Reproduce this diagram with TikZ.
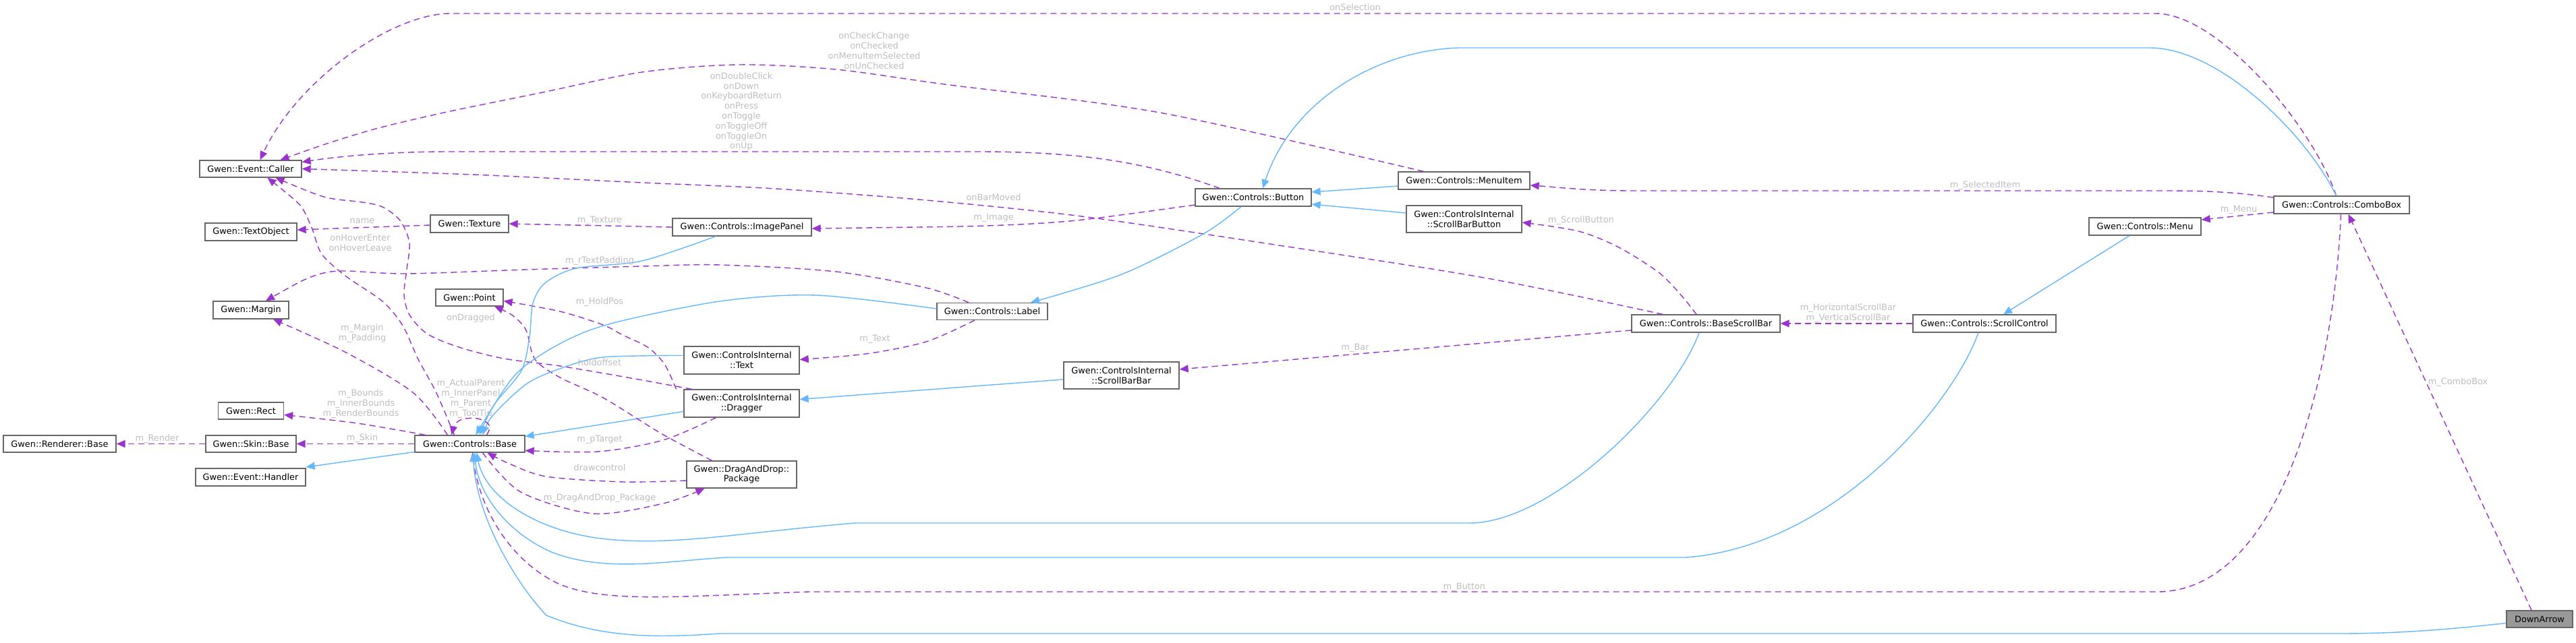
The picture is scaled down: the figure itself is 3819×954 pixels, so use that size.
\documentclass[tikz,border=0pt]{standalone}
\usepackage{fontspec}
\setmainfont{DejaVu Sans}
\usetikzlibrary{arrows.meta}
\definecolor{usagec}{HTML}{9A32CD}
\definecolor{inhc}{HTML}{63B8FF}
\definecolor{boxc}{HTML}{666666}
\definecolor{lblc}{HTML}{BEBEBE}
\definecolor{darrc}{HTML}{999999}
\newcommand{\dgfont}{\fontsize{12.9bp}{14.8bp}\selectfont}
\begin{document}
\begin{tikzpicture}[x=1bp,y=-1bp,
  box/.style={draw=boxc, line width=1.3bp, fill=white, inner sep=0pt, align=center, font=\dgfont},
  bx/.style n args={2}{box, minimum width=#1bp, minimum height=#2bp},
  lbl/.style={text=lblc, inner sep=0pt, align=center, font=\dgfont},
  usage/.style={draw=usagec, line width=1.4bp, dash pattern=on 9bp off 6bp, line join=round, -{Triangle[length=13bp,width=11bp]}},
  inh/.style={draw=inhc, line width=1.4bp, line join=round, -{Triangle[length=13bp,width=11bp]}},
]
\fill[white] (0,0) rectangle (3819,954);
\useasboundingbox (0,0) rectangle (3819,954);

% nodes
\node[bx={151}{25}] (caller) at (371.5,250.5) {Gwen::Event::Caller};
\node[bx={136}{26}] (textobj) at (372,344) {Gwen::TextObject};
\node[bx={116}{26}] (texture) at (696,332) {Gwen::Texture};
\node[bx={112}{26}] (margin) at (372,460) {Gwen::Margin};
\node[bx={100}{25}] (point) at (696,441.5) {Gwen::Point};
\node[bx={97}{25}] (rect) at (372,609.5) {Gwen::Rect};
\node[bx={167}{25}] (renderer) at (88.5,658.5) {Gwen::Renderer::Base};
\node[bx={134}{25}] (skin) at (372,658.5) {Gwen::Skin::Base};
\node[bx={163}{26}] (handler) at (371.5,708) {Gwen::Event::Handler};
\node[bx={163}{25}] (base) at (696.5,658.5) {Gwen::Controls::Base};
\node[bx={206}{26}] (imagepanel) at (1100,337) {Gwen::Controls::ImagePanel};
\node[bx={171}{41}] (citext) at (1099.5,534.5) {Gwen::ControlsInternal\\::Text};
\node[bx={171}{41}] (dragger) at (1099.5,598.5) {Gwen::ControlsInternal\\::Dragger};
\node[bx={163}{40}] (package) at (1099.5,704) {Gwen::DragAndDrop::\\Package};
\node[bx={172}{26}] (button) at (1858,293) {Gwen::Controls::Button};
\node[bx={195}{26}] (menuitem) at (2170.5,268) {Gwen::Controls::MenuItem};
\node[bx={171}{40}] (sbbutton) at (2170.5,325) {Gwen::ControlsInternal\\::ScrollBarButton};
\node[bx={164}{25}] (label) at (1471,462) {Gwen::Controls::Label};
\node[bx={171}{40}] (sbbar) at (1662.5,557) {Gwen::ControlsInternal\\::ScrollBarBar};
\node[bx={220}{26}] (bsb) at (2529,480) {Gwen::Controls::BaseScrollBar};
\node[bx={212}{26}] (scrollctl) at (2942,480) {Gwen::Controls::ScrollControl};
\node[bx={166}{26}] (menu) at (3180,336) {Gwen::Controls::Menu};
\node[bx={201}{26}] (combobox) at (3471.5,304) {Gwen::Controls::ComboBox};
\node[bx={98}{25}, fill=darrc] (downarrow) at (3765,918.5) {DownArrow};

% edges
\draw[usage] ([xshift=-8bp]combobox.north) .. controls (3430,190) and (3290,20) .. (3196,20) -- (668,20) .. controls (580,20) and (440,120) .. ([xshift=14bp]caller.north);
\draw[usage] plot[smooth, tension=0.5] coordinates {([xshift=-60bp]menuitem.north) (1719,167) (1400,125) (1239,103) (1095,96) (952,107) (800,138) (663,166) (561,190) (485,213) ([xshift=44bp]caller.north)};
\draw[usage] ([xshift=-50bp]button.north) .. controls (1700,240) and (1600,225) .. (1450,225) -- (665,225) .. controls (580,225) and (500,232) .. ([yshift=10bp]caller.east);
\draw[usage] plot[smooth, tension=0.5] coordinates {([xshift=-64bp]bsb.north) (2200,412) (1850,357) (1596,320) (1373,297) (1150,280) (952,271) (700,259) (caller.east)};
\draw[usage] plot[smooth, tension=0.5] coordinates {([xshift=-23bp]base.north) (647,583) (620,533) (597,483) (567,447) (513,410) (477,377) (463,340) (447,307) (423,285) ([xshift=25bp]caller.south)};
\draw[usage] plot[smooth, tension=0.5] coordinates {([xshift=-74bp]dragger.north) (930,560) (830,543) (747,532) (680,515) (633,495) (607,467) (599,437) (603,400) (607,360) (593,327) (567,307) (537,300) (480,292) ([xshift=37bp]caller.south)};
\draw[usage] plot[smooth, tension=0.5] coordinates {([xshift=-35bp]label.north) (1373,427) (1239,403) (1067,393) (952,395) (780,400) (603,406) (513,402) (480,405) (447,417) ([xshift=22bp]margin.north)};
\draw[usage] plot[smooth, tension=0.5] coordinates {([xshift=-33bp]base.north) (613,583) (513,523) ([xshift=33bp]margin.south)};
\draw[usage] plot[smooth, tension=0.5] coordinates {([xshift=-66bp]base.north) (530,628) ([yshift=-6bp]rect.east)};
\draw[usage] (base.west) -- (skin.east);
\draw[usage] (skin.west) -- (renderer.east);
\draw[inh] ([yshift=-12bp]base.west) -- ([yshift=15bp]handler.east);
\draw[usage] (imagepanel.west) -- (texture.east);
\draw[usage] ([yshift=-2bp]texture.west) -- ([yshift=3bp]textobj.east);
\draw[usage] plot[smooth, tension=0.5] coordinates {([yshift=-11bp]button.west) (1596,327) (1462,335) (1284,338) ([yshift=-2bp]imagepanel.east)};
\draw[usage] plot[smooth, tension=0.5] coordinates {([xshift=-26bp]label.south) (1373,507) (1284,525) ([yshift=1bp]citext.east)};
\draw[usage] ([yshift=-10bp]bsb.west) -- ([yshift=9bp]sbbar.east);
\draw[usage] plot[smooth, tension=0.5] coordinates {([xshift=-14bp]bsb.north) (2494,440) (2460,405) (2400,367) (2340,343) ([yshift=-5bp]sbbutton.east)};
\draw[usage] (scrollctl.west) -- (bsb.east);
\draw[usage] ([yshift=-11bp]combobox.west) -- ([yshift=10bp]menu.east);
\draw[usage] ([yshift=11bp]combobox.west) .. controls (3300,283) and (3250,283) .. (3200,283) -- (2420,283) .. controls (2350,283) and (2300,277) .. ([yshift=-7bp]menuitem.east);
\draw[usage] ([xshift=-12bp]downarrow.north) -- ([xshift=10bp]combobox.south);
\draw[usage] ([xshift=-1bp]combobox.south) .. controls (3460,560) and (3380,878) .. (3198,878) -- (1200,878) .. controls (1000,885) and (900,895) .. (830,867) .. controls (760,835) and (712,760) .. ([xshift=4bp]base.south);
\draw[inh] ([yshift=-6bp]downarrow.west) .. controls (3620,935) and (3550,940) .. (3467,940) -- (1067,940) .. controls (990,945) and (900,950) .. (810,913) .. controls (760,860) and (705,760) .. ([xshift=5bp]base.south);
\draw[inh] ([xshift=-9bp]scrollctl.south) .. controls (2895,600) and (2720,810) .. (2500,827) -- (1078,827) .. controls (990,832) and (900,850) .. (820,820) .. controls (760,795) and (710,740) .. ([xshift=7bp]base.south);
\draw[inh] ([xshift=-10bp]bsb.south) .. controls (2480,600) and (2300,776) .. (2179,776) -- (1268,776) .. controls (1100,790) and (1000,810) .. (900,800) .. controls (800,790) and (720,740) .. ([xshift=10bp]base.south);
\draw[usage] plot[smooth, tension=0.5] coordinates {([xshift=19bp]base.south) (772,730) (879,762) (983,747) ([xshift=-55bp]package.south)};
\draw[usage] plot[smooth, tension=0.5] coordinates {([yshift=-9bp]package.west) (925,715) (810,707) (753,687) ([xshift=26bp]base.south)};
\draw[usage] plot[smooth, tension=0.5] coordinates {([xshift=-38bp]dragger.south) (983,653) (887,670) ([yshift=-10bp]base.east)};
\draw[inh] ([yshift=-12bp]dragger.west) -- ([yshift=11bp]base.east);
\draw[usage] plot[smooth, tension=0.5] coordinates {([xshift=-97bp]dragger.north) (985,540) (960,515) (923,497) (894,482) (830,462) ([yshift=-5bp]point.east)};
\draw[usage] plot[smooth, tension=0.5] coordinates {([xshift=-44bp]package.north) (980,643) (894,590) (830,560) (793,533) (780,490) (760,468) ([xshift=37bp]point.south)};
\draw[inh] plot[smooth, tension=0.5] coordinates {([xshift=-39bp]imagepanel.south) (952,387) (854,398) (808,420) (790,450) (785,500) (773,550) (733,600) ([xshift=14bp]base.north)};
\draw[inh] plot[smooth, tension=0.5] coordinates {([yshift=7bp]citext.west) (894,530) (830,547) (780,570) (730,617) ([xshift=19bp]base.north)};
\draw[inh] plot[smooth, tension=0.5] coordinates {([yshift=4bp]label.west) (1210,438) (1067,447) (906,480) (830,510) (763,557) ([xshift=9bp]base.north)};
\draw[usage] plot[smooth, tension=0.6] coordinates {([xshift=25bp]base.north) (726,632) (712,622) (690,621) (676,628) ([xshift=-27bp]base.north)};
\draw[inh] ([yshift=-8bp]menuitem.west) -- ([yshift=8bp]button.east);
\draw[inh] ([yshift=9bp]sbbutton.west) -- ([yshift=-10bp]button.east);
\draw[inh] plot[smooth, tension=0.5] coordinates {([xshift=-18bp]button.south) (1784,347) (1663,407) ([xshift=57bp]label.north)};
\draw[inh] ([xshift=-8bp]combobox.north) .. controls (3420,200) and (3290,71) .. (3187,71) -- (2162,71) .. controls (2040,75) and (1915,150) .. ([xshift=14bp]button.north);
\draw[inh] ([yshift=-6bp]sbbar.west) -- ([yshift=6bp]dragger.east);
\draw[inh] ([xshift=-23bp]menu.south) -- ([xshift=28bp]scrollctl.north);

% labels
\node[lbl] (lonsel) at (2009,11) {onSelection};
\node[lbl] (loncheck) at (1296,75) {onCheckChange\\onChecked\\onMenuItemSelected\\onUnChecked};
\node[lbl] (lonbtn) at (1099,165.5) {onDoubleClick\\onDown\\onKeyboardReturn\\onPress\\onToggle\\onToggleOff\\onToggleOn\\onUp};
\node[lbl] (lbar) at (1473,293) {onBarMoved};
\node[lbl] (limage) at (1473,323) {m\_Image};
\node[lbl] (ltex) at (889,327) {m\_Texture};
\node[lbl] (lname) at (537,328) {name};
\node[lbl] (lhover) at (534,360) {onHoverEnter\\onHoverLeave};
\node[lbl] (lpad) at (889,387) {m\_rTextPadding};
\node[lbl] (lhold) at (889,448) {m\_HoldPos};
\node[lbl] (ldrag) at (698,472) {onDragged};
\node[lbl] (lmargin) at (537,495) {m\_Margin\\m\_Padding};
\node[lbl] (lhoff) at (889,538) {holdoffset};
\node[lbl] (ltext) at (1297,503) {m\_Text};
\node[lbl] (lmbar) at (2009,516) {m\_Bar};
\node[lbl] (lparent) at (698,591.5) {m\_ActualParent\\m\_InnerPanel\\m\_Parent\\m\_ToolTip};
\node[lbl] (lbounds) at (535,599) {m\_Bounds\\m\_InnerBounds\\m\_RenderBounds};
\node[lbl] (lskin) at (537,650) {m\_Skin};
\node[lbl] (lrender) at (233,651) {m\_Render};
\node[lbl] (ltarget) at (889,652) {m\_pTarget};
\node[lbl] (ldraw) at (889,694) {drawcontrol};
\node[lbl] (ldnd) at (889,739) {m\_DragAndDrop\_Package};
\node[lbl] (lsbtn) at (2344,327) {m\_ScrollButton};
\node[lbl] (lsel) at (2943,275) {m\_SelectedItem};
\node[lbl] (lmenu) at (3319,311) {m\_Menu};
\node[lbl] (lscroll) at (2740,464.5) {m\_HorizontalScrollBar\\m\_VerticalScrollBar};
\node[lbl] (lcombo) at (3644,567) {m\_ComboBox};
\node[lbl] (lbutton) at (2171,871) {m\_Button};
\end{tikzpicture}
\end{document}
